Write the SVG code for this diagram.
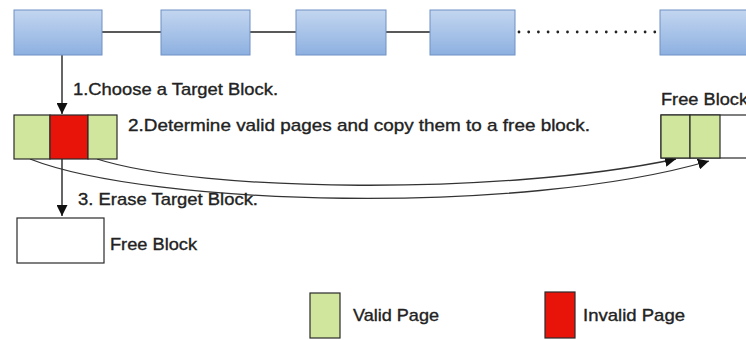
<svg xmlns="http://www.w3.org/2000/svg" width="746" height="340" viewBox="0 0 746 340">
  <defs>
    <linearGradient id="blueGrad" x1="0" y1="0" x2="0" y2="1">
      <stop offset="0" stop-color="#c3d6f0"/>
      <stop offset="1" stop-color="#8db0e0"/>
    </linearGradient>
    <marker id="arrow" viewBox="0 0 10 10" refX="10" refY="5" markerWidth="11" markerHeight="11" markerUnits="userSpaceOnUse" orient="auto">
      <path d="M0,0 L10,5 L0,10 z" fill="#111"/>
    </marker>
  </defs>
  <style>
    .blk { fill: url(#blueGrad); stroke: #6f90c4; stroke-width: 1; }
    .valid { fill: #cfe69c; stroke: #2a2a2a; stroke-width: 1.2; }
    .invalid { fill: #e8140a; stroke: #2a2a2a; stroke-width: 1.2; }
    .free { fill: #ffffff; stroke: #2a2a2a; stroke-width: 1.2; }
    .lbl { font-family: "Liberation Sans", Arial, sans-serif; font-size: 17px; fill: #222; stroke: #222; stroke-width: 0.35; }
    .link { stroke: #222; stroke-width: 1.5; fill: none; }
    .arr { stroke: #333; stroke-width: 1.5; fill: none; marker-end: url(#arrow); }
    .copy { stroke: #333; stroke-width: 1.3; fill: none; marker-end: url(#arrow); }
  </style>
  <rect width="746" height="340" fill="#ffffff"/>

  <g id="connectors">
    <line class="link" x1="102" y1="32" x2="161" y2="32"/>
    <line class="link" x1="250" y1="32" x2="296" y2="32"/>
    <line class="link" x1="386" y1="32" x2="430" y2="32"/>
    <line x1="519" y1="32" x2="660" y2="32" stroke="#222" stroke-width="2.8" stroke-linecap="round" stroke-dasharray="0 9.7"/>
    <line class="arr" x1="62" y1="55" x2="62" y2="114"/>
    <line class="arr" x1="62" y1="159" x2="62" y2="216"/>
    <path class="copy" d="M97,159 C200,192 500,196 676,159"/>
    <path class="copy" d="M30,159 C150,206 520,216 709,161"/>
  </g>

  <g id="block1"><rect class="blk" x="14" y="10" width="88" height="45"/></g>
  <g id="block2"><rect class="blk" x="161" y="10" width="89" height="45"/></g>
  <g id="block3"><rect class="blk" x="296" y="10" width="90" height="45"/></g>
  <g id="block4"><rect class="blk" x="430" y="10" width="85" height="45"/></g>
  <g id="block5"><rect class="blk" x="660" y="10" width="120" height="45"/></g>

  <g id="step1-label"><text class="lbl" x="73" y="95" textLength="205" lengthAdjust="spacingAndGlyphs">1.Choose a Target Block.</text></g>

  <g id="target-block">
    <rect class="valid" x="14" y="115" width="36" height="44"/>
    <rect class="invalid" x="50" y="115" width="38" height="44"/>
    <rect class="valid" x="88" y="115" width="29" height="44"/>
  </g>

  <g id="step2-label"><text class="lbl" x="128" y="131" textLength="462" lengthAdjust="spacingAndGlyphs">2.Determine valid pages and copy them to a free block.</text></g>

  <g id="free-block-right">
    <rect class="free" x="661" y="115" width="120" height="43"/>
    <rect class="valid" x="661" y="115" width="29" height="43"/>
    <rect class="valid" x="690" y="115" width="30" height="43"/>
    <text class="lbl" x="661" y="105" textLength="87" lengthAdjust="spacingAndGlyphs">Free Block</text>
  </g>

  <g id="step3-label"><text class="lbl" x="78" y="205" textLength="180" lengthAdjust="spacingAndGlyphs">3. Erase Target Block.</text></g>

  <g id="free-block-left">
    <rect class="free" x="17" y="218" width="87" height="45"/>
    <text class="lbl" x="110" y="250" textLength="87" lengthAdjust="spacingAndGlyphs">Free Block</text>
  </g>

  <g id="legend-valid">
    <rect class="valid" x="310" y="293" width="30" height="45"/>
    <text class="lbl" x="353" y="321" textLength="86" lengthAdjust="spacingAndGlyphs">Valid Page</text>
  </g>
  <g id="legend-invalid">
    <rect class="invalid" x="545" y="292" width="30" height="46"/>
    <text class="lbl" x="583" y="321" textLength="102" lengthAdjust="spacingAndGlyphs">Invalid Page</text>
  </g>
</svg>
